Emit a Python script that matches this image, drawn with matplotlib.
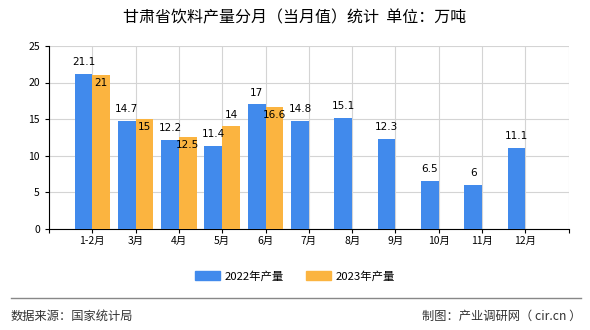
import numpy as np
import matplotlib
matplotlib.use("Agg")
import matplotlib.pyplot as plt
from matplotlib.lines import Line2D

plt.rcParams['font.family'] = ['Noto Sans CJK SC', 'DejaVu Sans']

#%% DATA
months = ['1-2月', '3月', '4月', '5月', '6月', '7月', '8月', '9月', '10月', '11月', '12月']
vals_2022 = [21.1, 14.7, 12.2, 11.4, 17, 14.8, 15.1, 12.3, 6.5, 6, 11.1]
vals_2023 = [21, 15, 12.5, 14, 16.6]
series_names = ['2022年产量', '2023年产量']
title = '甘肃省饮料产量分月（当月值）统计  单位：万吨'
source = '数据来源：国家统计局'
maker = '制图：产业调研网（ cir.cn ）'

c_blue = '#418AEC'
c_orange = '#FBB440'

#%% PLOT
fig = plt.figure(figsize=(5.9, 3.3), dpi=100)
ax = fig.add_axes([0.083, 0.306, 0.881, 0.555])

x = np.arange(1, len(months) + 1)
w = 0.41
x23 = x[:len(vals_2023)]
ax.bar(x - w / 2, vals_2022, width=w, color=c_blue, zorder=3)
ax.bar(x23 + w / 2, vals_2023, width=w, color=c_orange, zorder=3)

def fmt(v):
    return ('%g' % v)

for xi, v in zip(x, vals_2022):
    ax.annotate(fmt(v), (xi - w / 2, v), xytext=(0, 5), textcoords='offset points',
                ha='center', va='bottom', fontsize=7.5, family='DejaVu Sans', zorder=4)
for xi, v, b in zip(x23, vals_2023, vals_2022):
    # labels close to the 2022 value go inside the bar
    if abs(v - b) < 1:
        ax.annotate(fmt(v), (xi + w / 2, v), xytext=(0, -2), textcoords='offset points',
                    ha='center', va='top', fontsize=7.5, family='DejaVu Sans', zorder=4)
    else:
        ax.annotate(fmt(v), (xi + w / 2, v), xytext=(0, 5), textcoords='offset points',
                    ha='center', va='bottom', fontsize=7.5, family='DejaVu Sans', zorder=4)

ax.set_xlim(0, len(months) + 1)
ax.set_ylim(0, 25)
ax.set_yticks(np.arange(0, 26, 5))
ax.set_xticks(np.arange(0, len(months) + 2))
ax.set_xticklabels([''] + months + [''])
ax.tick_params(axis='both', labelsize=7.5, length=3, width=0.8, color='black')
ax.tick_params(axis='x', pad=2)
ax.grid(True, color='#d4d4d4', linewidth=0.8, zorder=0)
for s in ['top', 'right']:
    ax.spines[s].set_visible(False)
ax.spines['left'].set_linewidth(0.8)
ax.spines['bottom'].set_linewidth(0.8)

fig.text(0.5, 0.945, title, ha='center', va='center', fontsize=11.5)

handles = [plt.Rectangle((0, 0), 1, 1, color=c_blue), plt.Rectangle((0, 0), 1, 1, color=c_orange)]
fig.legend(handles, series_names, loc='center', bbox_to_anchor=(0.5, 0.163), ncol=2,
           frameon=False, fontsize=8.2, handlelength=2.2, handleheight=0.8,
           columnspacing=2.0, handletextpad=0.4)

fig.add_artist(Line2D([0.018, 0.985], [0.097, 0.097], color='#888888', linewidth=1,
                      transform=fig.transFigure))
fig.text(0.018, 0.042, source, ha='left', va='center', fontsize=8.8, color='#333333')
fig.text(0.985, 0.042, maker, ha='right', va='center', fontsize=8.8, color='#333333')

fig.savefig('out.png', dpi=100)
